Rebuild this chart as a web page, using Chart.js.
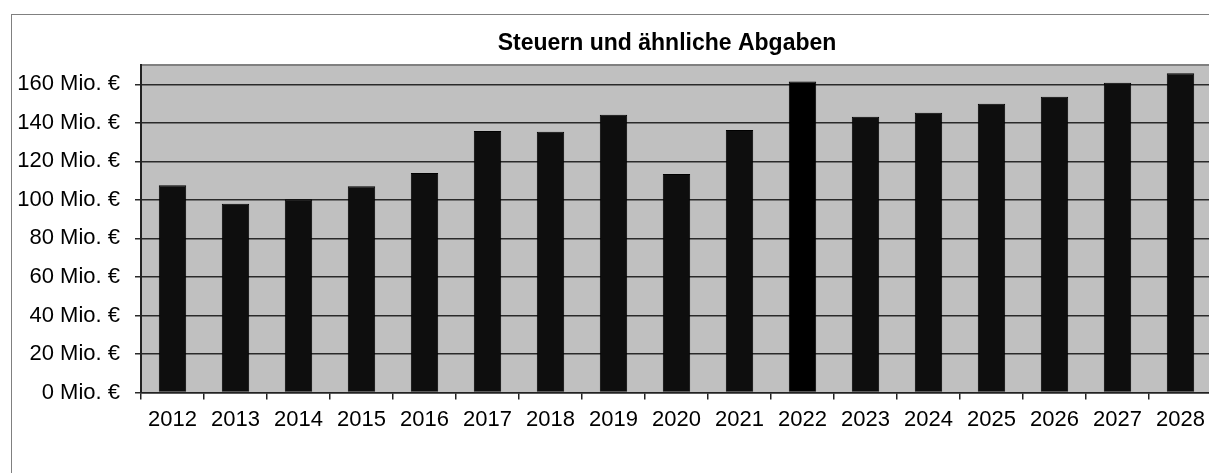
<!DOCTYPE html>
<html>
<head>
<meta charset="utf-8">
<script src="https://cdn.jsdelivr.net/npm/chart.js@4"></script>
<style>
  html, body { margin: 0; padding: 0; background: #fff; overflow: hidden; width: 1209px; height: 473px; }
  #frame { position: absolute; left: 11px; top: 14px; width: 2000px; height: 1000px; border-left: 1.5px solid #808080; border-top: 1.5px solid #808080; }
  #c { position: absolute; left: 0; top: 0; }
</style>
</head>
<body>
<div id="frame"></div>
<canvas id="c" width="1334" height="473"></canvas>
<script>
const categories = ['2012','2013','2014','2015','2016','2017','2018','2019','2020','2021','2022','2023','2024','2025','2026','2027','2028'];
const values = [107.6, 98, 100.3, 107.1, 113.9, 135.8, 135.3, 144.2, 113.4, 136.3, 161.5, 143.1, 145.2, 149.9, 153.5, 160.8, 165.7];
const highlightCategory = '2022';
const titleText = 'Steuern und ähnliche Abgaben';
const yMin = 0, yMax = 170, yStep = 20;
const unitSuffix = ' Mio. €';

const FONT = '"Liberation Sans", Arial, sans-serif';

const plotBg = {
  id: 'plotBg',
  beforeDraw(chart) {
    const {ctx, chartArea: a} = chart;
    ctx.save();
    ctx.fillStyle = '#c0c0c0';
    ctx.fillRect(a.left, a.top, a.right - a.left, a.bottom - a.top);
    ctx.strokeStyle = '#808080';
    ctx.lineWidth = 2;
    ctx.beginPath();
    ctx.moveTo(a.left, a.top);
    ctx.lineTo(a.right, a.top);
    ctx.stroke();
    ctx.restore();
  }
};

new Chart(document.getElementById('c'), {
  type: 'bar',
  data: {
    labels: categories,
    datasets: [{
      data: values,
      backgroundColor: ctx => categories[ctx.dataIndex] === highlightCategory ? '#000000' : '#0e0e0e',
      borderColor: '#000000',
      borderWidth: 1,
      barPercentage: 0.435,
      categoryPercentage: 1.0
    }]
  },
  options: {
    responsive: false,
    animation: false,
    layout: { padding: { left: 0, right: 0, top: 0, bottom: 33 } },
    plugins: {
      legend: { display: false },
      tooltip: { enabled: false },
      title: {
        display: true,
        text: titleText,
        color: '#000',
        font: { family: FONT, size: 23, weight: 'bold' },
        padding: { top: 30, bottom: 7.4 }
      }
    },
    scales: {
      x: {
        offset: true,
        grid: { offset: true, drawOnChartArea: false, drawTicks: true, tickLength: 7, color: '#222', lineWidth: 1.5 },
        border: { display: true, color: '#222', width: 1.5 },
        ticks: { color: '#000', font: { family: FONT, size: 22 }, padding: 7, maxRotation: 0, autoSkip: false }
      },
      y: {
        min: yMin, max: yMax,
        afterFit(scale) { scale.width = 141; },
        grid: { color: '#2a2a2a', lineWidth: 1.5, tickLength: 6, drawTicks: true },
        border: { display: true, color: '#222', width: 2 },
        ticks: {
          stepSize: yStep,
          includeBounds: false,
          color: '#000',
          font: { family: FONT, size: 22 },
          padding: 15,
          callback: v => v + unitSuffix
        }
      },
      yRightSpace: {
        position: 'right',
        display: true,
        min: yMin, max: yMax,
        afterFit(scale) { scale.width = 122; },
        grid: { display: false, drawOnChartArea: false, drawTicks: false },
        border: { display: false },
        ticks: { display: false }
      }
    }
  },
  plugins: [plotBg]
});
</script>
</body>
</html>
